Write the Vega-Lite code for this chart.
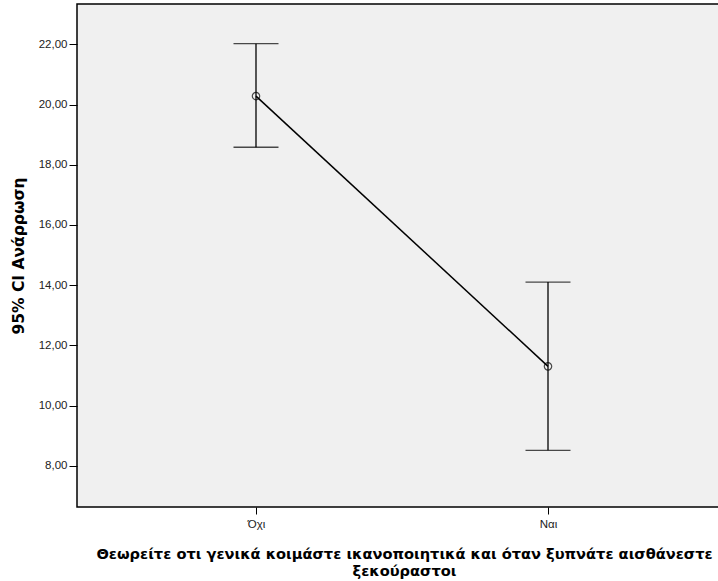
{
  "$schema": "https://vega.github.io/schema/vega-lite/v6.json",
  "autosize": "none",
  "width": 650,
  "height": 503,
  "padding": {"left": 77, "top": 4, "right": -9, "bottom": 74},
  "background": "white",
  "config": {
    "view": {"fill": "#f0f0f0", "stroke": "#000000", "strokeWidth": 1.5},
    "font": "Liberation Sans",
    "axis": {
      "domain": false,
      "tickColor": "#000000",
      "tickWidth": 1,
      "grid": false,
      "labelFont": "Liberation Sans",
      "labelFontSize": 11.5,
      "labelColor": "#222222",
      "titleFont": "DejaVu Sans",
      "titleFontSize": 14,
      "titleFontWeight": "bold",
      "titleColor": "#000000"
    }
  },
  "data": {
    "values": [
      {"cat": "Όχι", "mean": 20.28, "lo": 18.58, "hi": 22.02},
      {"cat": "Ναι", "mean": 11.30, "lo": 8.51, "hi": 14.10}
    ]
  },
  "encoding": {
    "x": {
      "field": "cat", "type": "nominal", "sort": ["Όχι", "Ναι"],
      "scale": {"type": "point", "padding": 0.613},
      "axis": {
        "orient": "bottom",
        "labelAngle": 0,
        "tickSize": 7,
        "labelPadding": 4,
        "title": ["Θεωρείτε οτι γενικά κοιμάστε ικανοποιητικά και όταν ξυπνάτε αισθάνεστε", "ξεκούραστοι"],
        "titleFontSize": 14.6,
        "titleLineHeight": 17,
        "titlePadding": 17,
        "titleX": 327
      }
    }
  },
  "layer": [
    {
      "mark": {"type": "rule", "color": "#000000", "strokeWidth": 1.3},
      "encoding": {
        "y": {
          "field": "lo", "type": "quantitative",
          "scale": {"domain": [6.628, 23.339], "nice": false, "zero": false},
          "axis": {
            "values": [8, 10, 12, 14, 16, 18, 20, 22],
            "labelExpr": "replace(format(datum.value, '.2f'), '.', ',')",
            "tickSize": 8,
            "labelPadding": 2,
            "title": "95% CI Ανάρρωση",
            "titleFontSize": 15.5,
            "titlePadding": 12
          }
        },
        "y2": {"field": "hi"}
      }
    },
    {
      "mark": {"type": "tick", "color": "#000000", "size": 45, "thickness": 1.3},
      "encoding": {
        "y": {"field": "lo", "type": "quantitative"}
      }
    },
    {
      "mark": {"type": "tick", "color": "#000000", "size": 45, "thickness": 1.3},
      "encoding": {
        "y": {"field": "hi", "type": "quantitative"}
      }
    },
    {
      "mark": {"type": "line", "color": "#000000", "strokeWidth": 1.5},
      "encoding": {
        "y": {"field": "mean", "type": "quantitative"}
      }
    },
    {
      "mark": {"type": "point", "shape": "circle", "filled": false, "color": "#000000", "size": 55, "strokeWidth": 1.2},
      "encoding": {
        "y": {"field": "mean", "type": "quantitative"}
      }
    }
  ]
}
